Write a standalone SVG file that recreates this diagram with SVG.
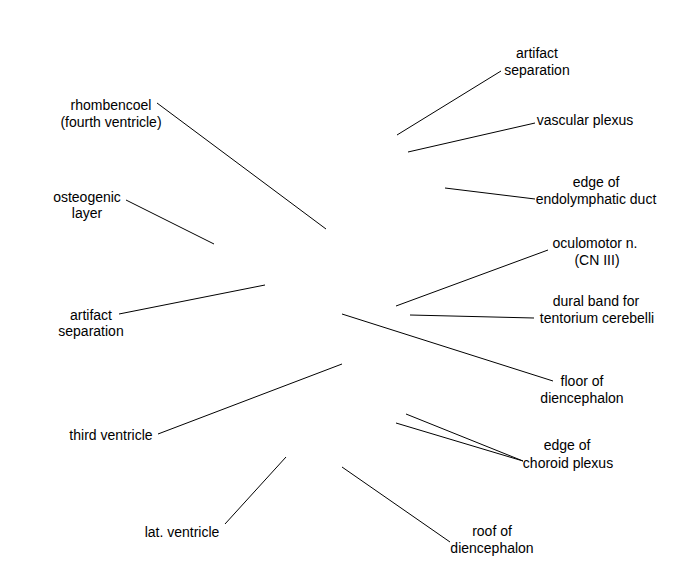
<svg xmlns="http://www.w3.org/2000/svg" width="675" height="580" viewBox="0 0 675 580">
<style>
text{font-family:"Liberation Sans",Arial,sans-serif;font-size:14px;fill:#000;text-anchor:middle}
.c line{stroke:#000;stroke-width:1}
</style>
<rect width="675" height="580" fill="#fff"/>
<g class="c" id="connectors">
<line x1="157" y1="103" x2="326" y2="229"/>
<line x1="126" y1="200" x2="214" y2="244"/>
<line x1="119" y1="314" x2="265" y2="285"/>
<line x1="397" y1="135" x2="501" y2="71"/>
<line x1="408" y1="152" x2="535" y2="123"/>
<line x1="445" y1="188" x2="535" y2="199"/>
<line x1="396" y1="306" x2="548" y2="250"/>
<line x1="410" y1="315" x2="534" y2="318"/>
<line x1="342" y1="314" x2="553" y2="381"/>
<line x1="406" y1="414" x2="523" y2="461"/>
<line x1="396" y1="423" x2="523" y2="461"/>
<line x1="158" y1="434" x2="342" y2="364"/>
<line x1="225" y1="524" x2="286" y2="457"/>
<line x1="342" y1="467" x2="450" y2="542"/>
</g>
<g id="rhombencoel"><text x="111" y="110">rhombencoel</text><text x="111" y="127">(fourth ventricle)</text></g>
<g id="osteogenic"><text x="87" y="202">osteogenic</text><text x="87" y="218">layer</text></g>
<g id="artifact-left"><text x="91" y="320">artifact</text><text x="91" y="336">separation</text></g>
<g id="third-ventricle"><text x="111" y="440">third ventricle</text></g>
<g id="lat-ventricle"><text x="182" y="537">lat. ventricle</text></g>
<g id="roof"><text x="492" y="536">roof of</text><text x="492" y="553">diencephalon</text></g>
<g id="choroid"><text x="567" y="450">edge of</text><text x="568" y="468">choroid plexus</text></g>
<g id="floor"><text x="582" y="386">floor of</text><text x="582" y="403">diencephalon</text></g>
<g id="dural"><text x="596" y="306">dural band for</text><text x="597" y="323">tentorium cerebelli</text></g>
<g id="oculomotor"><text x="595" y="248">oculomotor n.</text><text x="597" y="265">(CN III)</text></g>
<g id="endolymphatic"><text x="596" y="187">edge of</text><text x="596" y="204">endolymphatic duct</text></g>
<g id="vascular"><text x="585" y="125">vascular plexus</text></g>
<g id="artifact-right"><text x="537" y="58">artifact</text><text x="537" y="75">separation</text></g>
</svg>
